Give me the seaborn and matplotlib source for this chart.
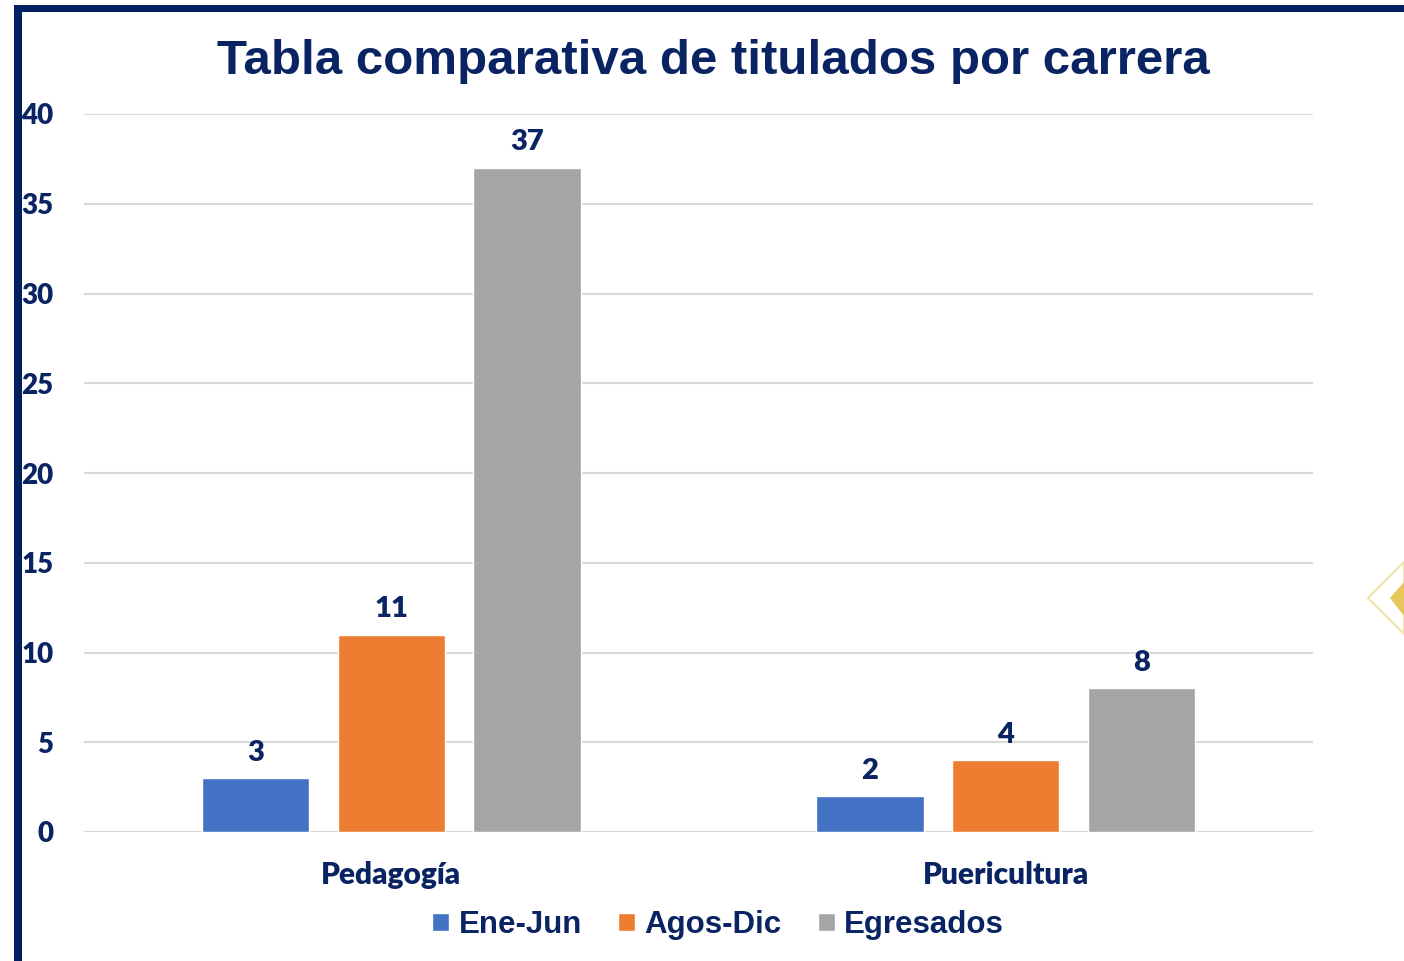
import pandas as pd
import matplotlib.pyplot as plt
import seaborn as sns
from matplotlib.patches import Rectangle, Polygon

carreras = ["Pedagogía", "Puericultura"]
ene_jun = [3, 2]
agos_dic = [11, 4]
egresados = [37, 8]
series = ["Ene-Jun", "Agos-Dic", "Egresados"]
colores = ["#4472C4", "#ED7D31", "#A5A5A5"]
navy = "#0A2463"

df = pd.DataFrame({"Carrera": carreras, "Ene-Jun": ene_jun,
                   "Agos-Dic": agos_dic, "Egresados": egresados})
df = df.melt(id_vars="Carrera", var_name="Periodo", value_name="Titulados")

sns.set_style("white")
plt.rcParams["font.family"] = ["Lato", "DejaVu Sans"]

W, H = 1404, 961
fig = plt.figure(figsize=(W / 100, H / 100), dpi=100)
ax = fig.add_axes([84 / W, 1 - 832 / H, 1229 / W, 718 / H])

sns.barplot(data=df, x="Carrera", y="Titulados", hue="Periodo", hue_order=series,
            palette=colores, width=0.663, gap=0.21, saturation=1, ax=ax)

ax.set_xlim(-0.5, 1.5)
ax.set_ylim(0, 40)
ax.set_yticks(range(0, 41, 5))
ax.yaxis.grid(True, color="#D9D9D9", linewidth=1.5)
ax.set_axisbelow(True)
sns.despine(ax=ax, left=True, bottom=True, top=True, right=True)
ax.axhline(0, color="#D9D9D9", linewidth=1.5, zorder=0.5)
ax.set_xlabel("")
ax.set_ylabel("")
ax.tick_params(axis="y", length=0, pad=22, labelsize=20, labelcolor=navy)
ax.tick_params(axis="x", length=0, pad=21, labelsize=21.5, labelcolor=navy)
for lab in ax.get_xticklabels() + ax.get_yticklabels():
    lab.set_fontweight("heavy")

for cont in ax.containers:
    ax.bar_label(cont, padding=9, fontsize=21, fontweight="heavy", color=navy)

handles, labels = ax.get_legend_handles_labels()
ax.legend(handles, labels, loc="center", bbox_to_anchor=(718 / W, 1 - 925 / H),
          bbox_transform=fig.transFigure, ncol=3, frameon=False,
          prop={"family": "Liberation Sans", "weight": "bold", "size": 22.5},
          handlelength=0.55, handleheight=0.55, handletextpad=0.3, columnspacing=1.15,
          labelcolor=navy)

fig.suptitle("Tabla comparativa de titulados por carrera", x=713 / W, y=1 - 61 / H,
             va="center", fontsize=35.5, fontweight="bold", color=navy,
             family="Liberation Sans")

# marco
fig.add_artist(Rectangle((14 / W, 0), 8 / W, 1 - 5 / H, transform=fig.transFigure,
                         color="#002060", lw=0))
fig.add_artist(Rectangle((14 / W, 1 - 12 / H), 1, 7 / H, transform=fig.transFigure,
                         color="#002060", lw=0))
# adorno
fig.add_artist(Polygon([(1368 / W, 1 - 598 / H), (1404 / W, 1 - 562 / H),
                        (1404 / W, 1 - 634 / H)], closed=True, transform=fig.transFigure,
                       facecolor="none", edgecolor="#EFE3A8", lw=1.5))
fig.add_artist(Polygon([(1390 / W, 1 - 598 / H), (1404 / W, 1 - 582 / H),
                        (1404 / W, 1 - 616 / H)], closed=True, transform=fig.transFigure,
                       facecolor="#E8C75A", edgecolor="none"))

fig.savefig("out.png", dpi=100)
